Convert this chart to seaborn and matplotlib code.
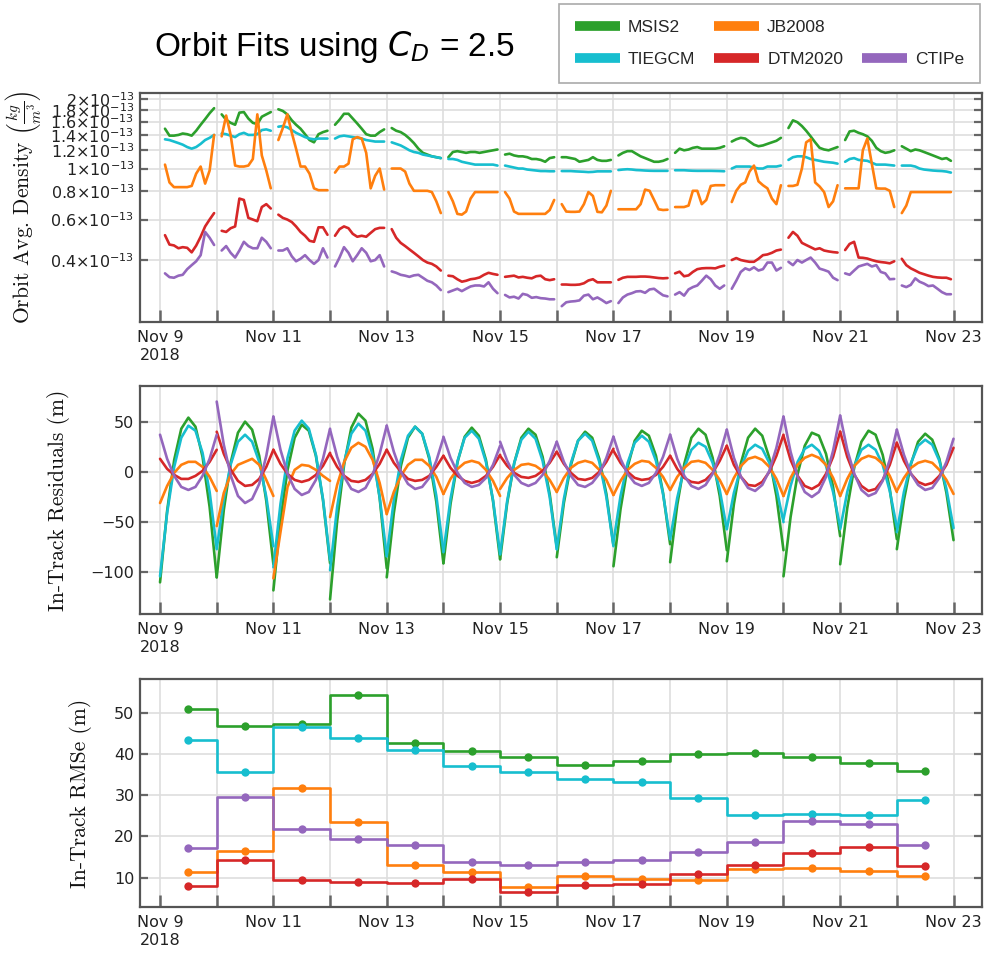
import numpy as np
import pandas as pd
import matplotlib
matplotlib.use("Agg")
import matplotlib.pyplot as plt
import matplotlib.dates as mdates
from matplotlib.ticker import FixedLocator, FixedFormatter, FuncFormatter, NullLocator
from matplotlib.lines import Line2D
import seaborn as sns

# ---------------------------------------------------------------- data
models = ["MSIS2", "TIEGCM", "JB2008", "DTM2020", "CTIPe"]
palette = {"MSIS2": "#2ca02c", "JB2008": "#ff7f0e", "TIEGCM": "#17becf",
           "DTM2020": "#d62728", "CTIPe": "#9467bd"}
day_starts = pd.date_range("2018-11-09", periods=14, freq="D")

# sample hours within each daily arc
dens_hours = [2.1, 4.0, 5.9, 7.8, 9.6, 11.5, 13.4, 15.3, 17.2, 19.1, 21.0, 22.9]
res_hours = [0, 3, 6, 9, 12, 15, 18, 21, 24]
rmse_hour = 12

# orbit-averaged density, units of 1e-13 kg/m^3 (one row per day)
dens_msis2 = [
    [1.49, 1.39, 1.39, 1.40, 1.42, 1.41, 1.39, 1.46, 1.55, 1.64, 1.74, 1.83],
    [1.72, 1.63, 1.58, 1.55, 1.75, 1.76, 1.65, 1.58, 1.56, 1.68, 1.72, 1.76],
    [1.81, 1.78, 1.72, 1.62, 1.55, 1.49, 1.41, 1.33, 1.30, 1.41, 1.44, 1.46],
    [1.55, 1.63, 1.73, 1.73, 1.65, 1.57, 1.49, 1.41, 1.39, 1.39, 1.44, 1.48],
    [1.50, 1.46, 1.44, 1.40, 1.35, 1.29, 1.22, 1.17, 1.15, 1.13, 1.12, 1.11],
    [1.12, 1.18, 1.19, 1.18, 1.17, 1.18, 1.18, 1.17, 1.18, 1.19, 1.20, 1.21],
    [1.15, 1.16, 1.14, 1.13, 1.13, 1.12, 1.10, 1.10, 1.09, 1.07, 1.11, 1.12],
    [1.12, 1.12, 1.11, 1.10, 1.07, 1.08, 1.09, 1.12, 1.09, 1.08, 1.08, 1.09],
    [1.14, 1.17, 1.19, 1.19, 1.16, 1.13, 1.11, 1.09, 1.07, 1.07, 1.08, 1.10],
    [1.17, 1.22, 1.20, 1.21, 1.23, 1.24, 1.22, 1.22, 1.22, 1.22, 1.23, 1.25],
    [1.31, 1.34, 1.36, 1.35, 1.31, 1.27, 1.25, 1.26, 1.28, 1.30, 1.32, 1.36],
    [1.50, 1.62, 1.59, 1.53, 1.46, 1.38, 1.30, 1.23, 1.21, 1.20, 1.22, 1.24],
    [1.33, 1.45, 1.46, 1.43, 1.41, 1.38, 1.32, 1.23, 1.19, 1.17, 1.18, 1.20],
    [1.25, 1.22, 1.19, 1.21, 1.20, 1.18, 1.16, 1.14, 1.12, 1.10, 1.11, 1.08],
]
dens_tiegcm = [
    [1.34, 1.33, 1.31, 1.29, 1.27, 1.24, 1.22, 1.24, 1.28, 1.33, 1.36, 1.40],
    [1.42, 1.41, 1.39, 1.37, 1.41, 1.43, 1.40, 1.40, 1.41, 1.47, 1.48, 1.46],
    [1.52, 1.53, 1.51, 1.47, 1.43, 1.40, 1.37, 1.35, 1.34, 1.35, 1.35, 1.35],
    [1.35, 1.38, 1.39, 1.38, 1.37, 1.36, 1.35, 1.33, 1.32, 1.31, 1.31, 1.31],
    [1.30, 1.28, 1.26, 1.23, 1.20, 1.18, 1.17, 1.15, 1.14, 1.13, 1.12, 1.11],
    [1.10, 1.10, 1.09, 1.07, 1.06, 1.05, 1.04, 1.04, 1.04, 1.04, 1.04, 1.03],
    [1.03, 1.02, 1.01, 1.00, 1.00, 0.99, 0.985, 0.98, 0.975, 0.975, 0.973, 0.973],
    [0.975, 0.975, 0.975, 0.972, 0.97, 0.968, 0.965, 0.967, 0.972, 0.972, 0.972, 0.972],
    [0.985, 0.99, 0.993, 0.99, 0.985, 0.983, 0.98, 0.978, 0.977, 0.977, 0.977, 0.977],
    [0.983, 0.983, 0.983, 0.98, 0.978, 0.977, 0.977, 0.977, 0.977, 0.976, 0.975, 0.973],
    [1.00, 1.02, 1.02, 1.02, 1.02, 1.01, 1.00, 1.00, 1.02, 1.02, 1.02, 1.03],
    [1.09, 1.12, 1.13, 1.13, 1.12, 1.10, 1.09, 1.08, 1.07, 1.065, 1.06, 1.05],
    [1.07, 1.10, 1.11, 1.09, 1.085, 1.08, 1.06, 1.04, 1.04, 1.04, 1.035, 1.03],
    [1.03, 1.03, 1.03, 1.02, 1.00, 0.99, 0.985, 0.98, 0.977, 0.975, 0.97, 0.96],
]
dens_jb2008 = [
    [1.04, 0.87, 0.83, 0.83, 0.83, 0.83, 0.84, 0.95, 1.02, 0.86, 0.98, 1.40],
    [1.38, 1.70, 1.40, 1.03, 1.02, 1.02, 1.03, 1.10, 1.72, 1.14, 0.98, 0.82],
    [1.33, 1.50, 1.72, 1.43, 1.22, 1.02, 1.02, 0.95, 0.82, 0.805, 0.805, 0.805],
    [0.96, 1.02, 1.02, 1.05, 1.34, 1.37, 1.35, 1.17, 0.82, 0.93, 1.00, 0.81],
    [1.00, 1.00, 1.00, 0.97, 0.86, 0.80, 0.80, 0.80, 0.80, 0.79, 0.72, 0.64],
    [0.79, 0.72, 0.635, 0.63, 0.65, 0.74, 0.79, 0.79, 0.79, 0.79, 0.79, 0.79],
    [0.79, 0.74, 0.65, 0.635, 0.635, 0.635, 0.635, 0.635, 0.635, 0.635, 0.66, 0.73],
    [0.70, 0.65, 0.648, 0.648, 0.65, 0.70, 0.79, 0.76, 0.648, 0.645, 0.69, 0.80],
    [0.665, 0.665, 0.665, 0.665, 0.665, 0.70, 0.81, 0.80, 0.73, 0.665, 0.66, 0.662],
    [0.68, 0.68, 0.68, 0.69, 0.80, 0.80, 0.70, 0.73, 0.84, 0.846, 0.846, 0.846],
    [0.715, 0.80, 0.85, 0.87, 0.97, 1.03, 0.88, 0.846, 0.82, 0.74, 0.70, 0.846],
    [0.84, 0.84, 0.85, 1.00, 1.30, 1.34, 0.87, 0.835, 0.79, 0.68, 0.72, 0.846],
    [0.82, 0.82, 0.82, 0.82, 1.20, 1.35, 1.05, 0.82, 0.818, 0.818, 0.80, 0.68],
    [0.64, 0.69, 0.79, 0.79, 0.79, 0.79, 0.79, 0.79, 0.79, 0.79, 0.79, 0.79],
]
dens_dtm2020 = [
    [0.513, 0.467, 0.463, 0.450, 0.455, 0.452, 0.432, 0.462, 0.505, 0.56, 0.60, 0.64],
    [0.536, 0.53, 0.55, 0.56, 0.74, 0.73, 0.61, 0.60, 0.59, 0.68, 0.70, 0.67],
    [0.63, 0.61, 0.60, 0.585, 0.56, 0.53, 0.51, 0.485, 0.48, 0.555, 0.555, 0.515],
    [0.51, 0.545, 0.56, 0.55, 0.52, 0.505, 0.51, 0.505, 0.525, 0.545, 0.552, 0.552],
    [0.545, 0.50, 0.475, 0.46, 0.445, 0.43, 0.415, 0.40, 0.39, 0.385, 0.375, 0.36],
    [0.342, 0.34, 0.33, 0.322, 0.325, 0.33, 0.332, 0.336, 0.345, 0.352, 0.348, 0.345],
    [0.338, 0.34, 0.342, 0.336, 0.338, 0.335, 0.333, 0.34, 0.342, 0.33, 0.327, 0.33],
    [0.313, 0.313, 0.312, 0.312, 0.313, 0.317, 0.326, 0.33, 0.32, 0.32, 0.32, 0.32],
    [0.328, 0.335, 0.338, 0.338, 0.338, 0.339, 0.339, 0.338, 0.336, 0.334, 0.333, 0.334],
    [0.35, 0.356, 0.34, 0.343, 0.355, 0.365, 0.368, 0.369, 0.369, 0.368, 0.374, 0.378],
    [0.40, 0.408, 0.40, 0.396, 0.393, 0.393, 0.405, 0.42, 0.423, 0.43, 0.44, 0.444],
    [0.50, 0.53, 0.51, 0.475, 0.465, 0.455, 0.445, 0.45, 0.44, 0.436, 0.433, 0.431],
    [0.442, 0.47, 0.48, 0.41, 0.409, 0.406, 0.40, 0.395, 0.392, 0.39, 0.387, 0.395],
    [0.405, 0.38, 0.368, 0.36, 0.352, 0.347, 0.342, 0.338, 0.336, 0.335, 0.335, 0.33],
]
dens_ctipe = [
    [0.350, 0.337, 0.335, 0.342, 0.345, 0.365, 0.380, 0.395, 0.42, 0.53, 0.50, 0.465],
    [0.44, 0.46, 0.43, 0.41, 0.44, 0.48, 0.46, 0.45, 0.45, 0.50, 0.48, 0.45],
    [0.44, 0.44, 0.45, 0.415, 0.395, 0.405, 0.42, 0.40, 0.385, 0.40, 0.45, 0.41],
    [0.375, 0.41, 0.455, 0.43, 0.395, 0.42, 0.45, 0.43, 0.395, 0.40, 0.42, 0.375],
    [0.357, 0.352, 0.345, 0.342, 0.338, 0.343, 0.345, 0.335, 0.325, 0.32, 0.31, 0.296],
    [0.29, 0.295, 0.30, 0.293, 0.30, 0.307, 0.31, 0.31, 0.307, 0.32, 0.30, 0.287],
    [0.282, 0.275, 0.277, 0.272, 0.285, 0.282, 0.274, 0.276, 0.273, 0.272, 0.27, 0.27],
    [0.252, 0.262, 0.264, 0.265, 0.267, 0.28, 0.283, 0.27, 0.275, 0.268, 0.26, 0.265],
    [0.26, 0.275, 0.283, 0.287, 0.292, 0.293, 0.288, 0.298, 0.30, 0.29, 0.281, 0.278],
    [0.283, 0.29, 0.28, 0.298, 0.305, 0.31, 0.325, 0.342, 0.33, 0.31, 0.30, 0.31],
    [0.30, 0.325, 0.355, 0.368, 0.362, 0.372, 0.36, 0.365, 0.39, 0.39, 0.36, 0.37],
    [0.393, 0.38, 0.40, 0.39, 0.40, 0.41, 0.39, 0.367, 0.362, 0.356, 0.335, 0.327],
    [0.35, 0.345, 0.36, 0.375, 0.38, 0.385, 0.375, 0.38, 0.355, 0.35, 0.33, 0.331],
    [0.31, 0.305, 0.312, 0.333, 0.322, 0.316, 0.308, 0.31, 0.30, 0.29, 0.284, 0.284],
]

# in-track residuals (m) over each daily fit arc
res_msis2 = [
    [-110, -39, 12, 43, 54, 45, 15, -35, -105],
    [-105, -38, 10, 39, 50, 42, 16, -29, -92],
    [-118, -48, 2, 34, 47, 41, 16, -28, -91],
    [-127, -49, 8, 44, 58, 51, 23, -26, -96],
    [-105, -41, 6, 34, 45, 38, 13, -30, -91],
    [-91, -32, 10, 35, 44, 36, 12, -29, -87],
    [-87, -31, 9, 34, 43, 37, 15, -22, -75],
    [-85, -31, 7, 31, 40, 34, 13, -22, -73],
    [-94, -37, 5, 31, 41, 36, 16, -21, -72],
    [-90, -33, 8, 34, 43, 37, 14, -24, -78],
    [-89, -32, 9, 34, 43, 36, 14, -24, -78],
    [-104, -45, -2, 26, 39, 36, 18, -15, -64],
    [-92, -36, 5, 30, 41, 37, 17, -17, -67],
    [-77, -28, 8, 30, 38, 32, 13, -21, -68],
]
res_tiegcm = [
    [-104, -41, 5, 34, 46, 41, 19, -20, -76],
    [-77, -27, 8, 30, 37, 30, 10, -25, -74],
    [-95, -32, 14, 41, 51, 43, 17, -27, -88],
    [-98, -35, 10, 38, 48, 41, 17, -25, -84],
    [-84, -28, 12, 36, 45, 38, 15, -24, -79],
    [-80, -27, 11, 34, 41, 33, 10, -28, -82],
    [-82, -29, 9, 32, 40, 33, 11, -25, -77],
    [-77, -27, 9, 31, 38, 31, 10, -25, -74],
    [-70, -24, 9, 29, 36, 30, 11, -22, -67],
    [-67, -26, 4, 22, 29, 25, 9, -18, -57],
    [-57, -21, 5, 21, 27, 23, 9, -16, -50],
    [-47, -14, 10, 23, 27, 21, 6, -20, -55],
    [-57, -20, 6, 22, 27, 22, 7, -19, -55],
    [-60, -20, 9, 26, 32, 27, 11, -17, -56],
]
res_jb2008 = [
    [-31, -14, -1, 7, 10, 10, 5, -5, -19],
    [-54, -21, -2, 7, 10, 13, 7, -8, -24],
    [-106, -60, -15, 2, 7, 6, 2, -4, -9],
    [-45, -13, 10, 24, 29, 25, 12, -11, -42],
    [-42, -20, -4, 7, 12, 12, 6, -5, -22],
    [-22, -7, 3, 9, 11, 9, 2, -9, -24],
    [-17, -6, 2, 7, 8, 6, 1, -8, -20],
    [-20, -6, 4, 9, 11, 9, 2, -8, -23],
    [-23, -9, 2, 8, 11, 10, 4, -5, -18],
    [-18, -5, 4, 10, 11, 9, 2, -8, -22],
    [-22, -6, 6, 13, 15, 12, 5, -7, -24],
    [-24, -6, 7, 14, 17, 14, 7, -6, -24],
    [-24, -7, 6, 13, 16, 14, 8, -4, -20],
    [-19, -6, 4, 9, 11, 9, 2, -8, -22],
]
res_dtm2020 = [
    [13, 3, -3, -7, -7, -4, 1, 10, 22],
    [40, 18, 2, -9, -14, -13, -7, 5, 22],
    [22, 8, -2, -8, -10, -8, -3, 6, 19],
    [18, 5, -4, -9, -10, -8, -2, 8, 22],
    [22, 9, 0, -7, -9, -8, -4, 5, 16],
    [16, 4, -4, -9, -11, -9, -4, 5, 17],
    [16, 6, -1, -5, -6, -4, 1, 9, 20],
    [20, 8, -1, -7, -8, -6, 0, 10, 23],
    [21, 9, 0, -6, -8, -7, -3, 5, 16],
    [16, 3, -6, -10, -11, -8, -1, 11, 26],
    [26, 7, -5, -13, -14, -10, 0, 16, 37],
    [36, 12, -4, -14, -17, -13, -2, 15, 40],
    [40, 15, -3, -14, -19, -17, -8, 7, 29],
    [29, 11, -2, -10, -13, -11, -4, 7, 24],
]
res_ctipe = [
    [37, 13, -4, -15, -18, -15, -4, 13, 37],
    [70, 27, -4, -24, -31, -27, -12, 16, 55],
    [55, 22, -2, -17, -23, -20, -8, 13, 43],
    [42, 15, -5, -17, -20, -16, -3, 18, 46],
    [46, 20, 0, -12, -17, -15, -6, 11, 34],
    [35, 14, -1, -11, -15, -13, -6, 7, 26],
    [30, 11, -3, -11, -14, -11, -3, 11, 30],
    [30, 10, -4, -13, -15, -11, -2, 14, 35],
    [35, 13, -2, -11, -14, -11, -1, 15, 37],
    [37, 13, -4, -14, -17, -13, -2, 17, 42],
    [42, 14, -5, -16, -19, -13, 1, 24, 55],
    [55, 20, -5, -20, -25, -20, -5, 21, 56],
    [56, 22, -2, -18, -24, -21, -9, 12, 42],
    [42, 17, -2, -13, -18, -16, -6, 10, 33],
]

# daily in-track RMS error (m)
rmse_msis2 = [50.9, 46.9, 47.2, 54.4, 42.7, 40.8, 39.2, 37.4, 38.3, 40.1, 40.2, 39.3, 37.8, 35.9]
rmse_tiegcm = [43.3, 35.6, 46.6, 43.9, 41.0, 37.2, 35.7, 34.0, 33.3, 29.4, 25.2, 25.4, 25.3, 28.8]
rmse_jb2008 = [11.3, 16.4, 31.7, 23.4, 13.2, 11.4, 7.7, 10.4, 9.8, 9.4, 12.0, 12.4, 11.6, 10.5]
rmse_dtm2020 = [8.1, 14.3, 9.5, 9.0, 8.6, 9.7, 6.6, 8.3, 8.5, 11.0, 13.1, 15.9, 17.4, 12.8]
rmse_ctipe = [17.2, 29.6, 21.9, 19.4, 17.85, 13.8, 13.1, 13.8, 14.4, 16.3, 18.6, 23.8, 23.0, 17.9]

dens_ticks = [0.4, 0.6, 0.8, 1.0, 1.2, 1.4, 1.6, 1.8, 2.0]
dens_tick_labels = [r"$0.4{\times}10^{-13}$", r"$0.6{\times}10^{-13}$", r"$0.8{\times}10^{-13}$",
                    r"$1{\times}10^{-13}$", r"$1.2{\times}10^{-13}$", r"$1.4{\times}10^{-13}$",
                    r"$1.6{\times}10^{-13}$", r"$1.8{\times}10^{-13}$", r"$2{\times}10^{-13}$"]

dens_by_model = {"MSIS2": dens_msis2, "TIEGCM": dens_tiegcm, "JB2008": dens_jb2008,
                 "DTM2020": dens_dtm2020, "CTIPe": dens_ctipe}
res_by_model = {"MSIS2": res_msis2, "TIEGCM": res_tiegcm, "JB2008": res_jb2008,
                "DTM2020": res_dtm2020, "CTIPe": res_ctipe}
rmse_by_model = {"MSIS2": rmse_msis2, "TIEGCM": rmse_tiegcm, "JB2008": rmse_jb2008,
                 "DTM2020": rmse_dtm2020, "CTIPe": rmse_ctipe}


def arcs_frame(table, hours, column, scale=1.0):
    rows = []
    for m in models:
        for d, start in enumerate(day_starts):
            for h, v in zip(hours, table[m][d]):
                rows.append({"time": start + pd.Timedelta(hours=h), column: v * scale,
                             "model": m, "arc": d})
    return pd.DataFrame(rows)


df_dens = arcs_frame(dens_by_model, dens_hours, "density", 1e-13)
df_res = arcs_frame(res_by_model, res_hours, "residual")
df_rmse = pd.DataFrame([{"time": start + pd.Timedelta(hours=rmse_hour), "rmse": rmse_by_model[m][d],
                         "model": m}
                        for m in models for d, start in enumerate(day_starts)])

# ---------------------------------------------------------------- style
sns.set_style("whitegrid")
plt.rcParams["font.family"] = ["DejaVu Sans"]

fig = plt.figure(figsize=(9.84, 9.55), dpi=100)
ax_d = fig.add_axes([0.1423, 0.6628, 0.8557, 0.2398])
ax_r = fig.add_axes([0.1423, 0.3571, 0.8557, 0.2387])
ax_e = fig.add_axes([0.1423, 0.0503, 0.8557, 0.2387])

line_kw = dict(hue="model", hue_order=models, palette=palette, legend=False, linewidth=1.9)

sns.lineplot(data=df_dens, x="time", y="density", units="arc", estimator=None, ax=ax_d, **line_kw)
sns.lineplot(data=df_res, x="time", y="residual", units="arc", estimator=None, ax=ax_r, **line_kw)
sns.lineplot(data=df_rmse, x="time", y="rmse", estimator=None, ax=ax_e, drawstyle="steps-mid",
             marker="o", markersize=6, markeredgewidth=0, **line_kw)

x0 = mdates.date2num(pd.Timestamp("2018-11-09"))
x_lo, x_hi = x0 - 0.353, x0 + 14.503


def day_label(x, pos):
    d = mdates.num2date(x)
    if (d.day - 9) % 2:
        return ""
    text = f"Nov {d.day}"
    if d.day == 9:
        text += "\n2018"
    return text


for ax in (ax_d, ax_r, ax_e):
    ax.set_xlim(x_lo, x_hi)
    ax.xaxis.set_major_locator(mdates.DayLocator())
    ax.xaxis.set_major_formatter(FuncFormatter(day_label))
    ax.xaxis.set_minor_locator(NullLocator())
    ax.grid(True, which="major", color="#dedede", linewidth=1.2)
    ax.set_axisbelow(True)
    ax.set_facecolor("white")
    for s in ax.spines.values():
        s.set_color("#555555")
        s.set_linewidth(1.6)
    ax.tick_params(axis="x", direction="in", length=9, width=1.8, color="#666666",
                   pad=6, labelsize=11.5, labelcolor="#222222", bottom=True, top=False)
    ax.tick_params(axis="y", direction="in", length=6, width=1.6, color="#666666",
                   pad=4, labelsize=11.5, labelcolor="#222222", left=True, right=True)
    ax.set_xlabel("")

ax_d.set_yscale("log")
ax_d.set_ylim(0.215e-13, 2.13e-13)
ax_d.yaxis.set_major_locator(FixedLocator([v * 1e-13 for v in dens_ticks]))
ax_d.yaxis.set_major_formatter(FixedFormatter(dens_tick_labels))
ax_d.yaxis.set_minor_locator(NullLocator())

ax_r.set_ylim(-141.5, 85.5)
ax_r.set_yticks([-100, -50, 0, 50])

ax_e.set_ylim(2.9, 58.2)
ax_e.set_yticks([10, 20, 30, 40, 50])

label_kw = dict(fontsize=15.5, fontfamily="cmr10", math_fontfamily="cm", color="#111111")
ax_d.set_ylabel(r"Orbit Avg. Density $\left(\frac{kg}{m^3}\right)$", **label_kw)
ax_r.set_ylabel("In-Track Residuals (m)", **label_kw)
ax_e.set_ylabel("In-Track RMSe (m)", **label_kw)
ax_d.yaxis.set_label_coords(-0.115, 0.5)
ax_r.yaxis.set_label_coords(-0.083, 0.5)
ax_e.yaxis.set_label_coords(-0.057, 0.5)

fig.text(335 / 984, 1 - 47 / 955, "Orbit Fits using $C_D$ = 2.5", ha="center", va="center",
         fontsize=24, fontfamily="Liberation Sans", color="black")

# legend laid out column by column; an empty slot keeps CTIPe on the second row
blank = Line2D([], [], color="none", linewidth=0)
leg_handles = [Line2D([0], [0], color=palette[m], linewidth=7, solid_capstyle="butt")
               for m in models]
leg_handles.insert(4, blank)
leg_labels = list(models)
leg_labels.insert(4, "")
leg = fig.legend(leg_handles, leg_labels, ncol=3, loc="upper right",
                 bbox_to_anchor=(980 / 984, 1 - 4 / 955), borderaxespad=0,
                 prop={"family": "Liberation Sans", "size": 12.5},
                 frameon=True, fancybox=False, edgecolor="#aaaaaa", framealpha=1,
                 handlelength=2.6, handletextpad=0.45, columnspacing=1.1,
                 labelspacing=1.0, borderpad=0.9)
leg.get_frame().set_linewidth(1.2)

fig.savefig("out.png", dpi=100)
